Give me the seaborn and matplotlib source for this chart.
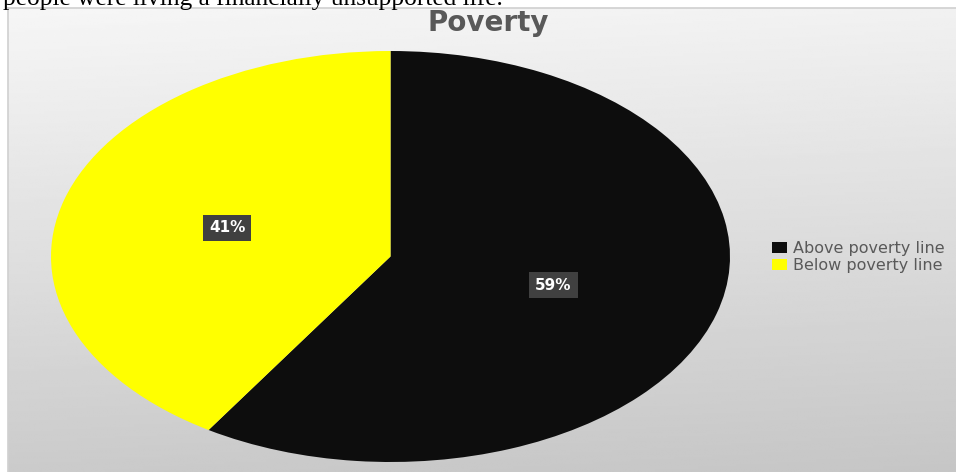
import numpy as np
import matplotlib
matplotlib.use("Agg")
import matplotlib.pyplot as plt
import matplotlib.patches as mpatches
import seaborn as sns

# Poverty split (percent of population)
categories = ["Above poverty line", "Below poverty line"]
shares = [59, 41]
slice_colors = ["#0d0d0d", "#ffff00"]
chart_title = "Poverty"
caption_line = "people were living a financially unsupported life."

sns.set_style("white")
plt.rcParams["font.family"] = ["DejaVu Sans"]

W, H = 956, 472
fig = plt.figure(figsize=(W / 100, H / 100), dpi=100)
fig.patch.set_facecolor("white")

# chart panel with a soft vertical grey gradient
bg = fig.add_axes([8 / W, 0, (W - 8) / W, (H - 8) / H])
yy, xx = np.mgrid[0:1:200j, 0:1:200j]
shade = 0.965 - 0.17 * yy - 0.02 * xx
bg.imshow(shade, cmap="gray", vmin=0, vmax=1, aspect="auto",
          extent=[0, 1, 0, 1], origin="upper", interpolation="bilinear")
bg.set_xlim(0, 1)
bg.set_ylim(0, 1)
bg.set_xticks([])
bg.set_yticks([])
for side in ("right", "bottom"):
    bg.spines[side].set_visible(False)
for side in ("top", "left"):
    bg.spines[side].set_color("#d0d0d0")
    bg.spines[side].set_linewidth(1.2)

# pie drawn into a stretched box so it renders as an ellipse
left, right, top, bottom = 51, 730, 51, 462
ax = fig.add_axes([left / W, 1 - bottom / H, (right - left) / W, (bottom - top) / H])
ax.patch.set_alpha(0)
wedges, _, pct_texts = ax.pie(
    shares,
    colors=slice_colors,
    startangle=90,
    counterclock=False,
    autopct=lambda p: f"{p:.0f}%",
    pctdistance=0.5,
    wedgeprops=dict(linewidth=0),
    textprops=dict(color="white", fontsize=11, fontweight="bold"),
)
for t in pct_texts:
    t.set_bbox(dict(boxstyle="square,pad=0.38", fc="#404040", ec="none"))
ax.set_aspect("auto")
ax.set_xlim(-1, 1)
ax.set_ylim(-1, 1)
ax.axis("off")

fig.text(488 / W, 1 - 23 / H, chart_title, ha="center", va="center",
         fontsize=20, fontweight="bold", color="#595959")

handles = [mpatches.Patch(facecolor=c, edgecolor="none") for c in slice_colors]
fig.legend(handles, categories, loc="center left",
           bbox_to_anchor=(772 / W, 1 - 257 / H), frameon=False,
           fontsize=11.5, labelcolor="#595959", handlelength=0.95,
           handleheight=0.7, handletextpad=0.35, labelspacing=0.1,
           borderaxespad=0, borderpad=0)

fig.text(3 / W, 1 - 5 / H, caption_line, ha="left", va="baseline",
         fontsize=18.3, family=["Liberation Serif"], color="black")

fig.savefig("out.png", dpi=100)
